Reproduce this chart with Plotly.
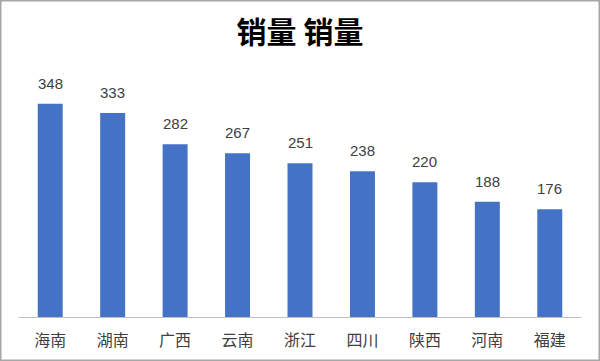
import plotly.graph_objects as go

categories = ["海南", "湖南", "广西", "云南", "浙江", "四川", "陕西", "河南", "福建"]
values = [348, 333, 282, 267, 251, 238, 220, 188, 176]
title_text = "销量 销量"

W, H = 600, 361
ml, mr, mt, mb = 19, 19, 70, 44
pw, ph = W - ml - mr, H - mt - mb

fig = go.Figure(go.Bar(
    x=categories, y=values,
    marker=dict(color="#4472C4", line=dict(width=0)),
    width=0.4,
    hoverinfo="x+y",
))

for c, v in zip(categories, values):
    fig.add_annotation(x=c, y=v, text=str(v), showarrow=False, yanchor="bottom", yshift=10,
                       font=dict(size=15, color="#404040", family="Liberation Sans, Arial, sans-serif"))

fig.update_layout(
    width=W, height=H,
    margin=dict(l=ml, r=mr, t=mt, b=mb, autoexpand=False),
    paper_bgcolor="white", plot_bgcolor="white",
    title=dict(text="<b>" + title_text + "</b>", x=0.5, xanchor="center", y=1 - 32 / H, yanchor="middle",
               font=dict(size=30, color="#000000", family="Noto Sans CJK SC")),
    xaxis=dict(showgrid=False, showline=True, linecolor="#BFBFBF", linewidth=1, ticks="",
               ticklabelstandoff=9,
               tickfont=dict(size=16, color="#404040", family="Noto Sans CJK SC"), automargin=False),
    yaxis=dict(visible=False, range=[0, 403]),
    showlegend=False,
    shapes=[dict(type="rect", xref="paper", yref="paper",
                 x0=(-ml + 0.75) / pw, x1=1 + (mr - 0.75) / pw,
                 y0=(-mb + 0.75) / ph, y1=1 + (mt - 0.75) / ph,
                 line=dict(color="#A6A6A6", width=1.5))],
)

fig.write_html("out.html", config={"displayModeBar": False},
               post_script="document.body.style.margin='0';document.body.style.overflow='hidden';")
